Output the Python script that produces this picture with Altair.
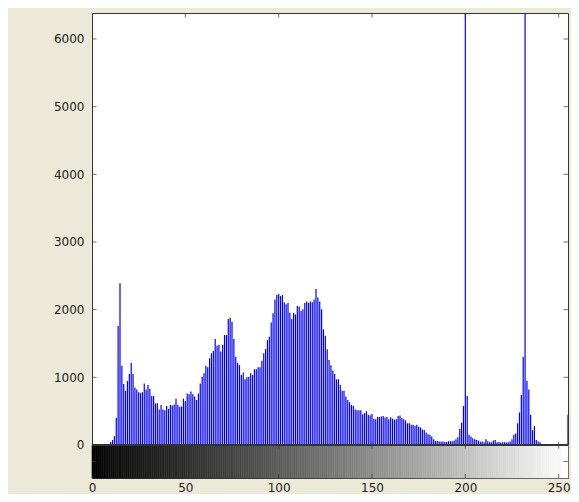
import altair as alt
import pandas as pd

# ---- data (grey level histogram, 256 bins) ----
levels = list(range(256))
counts = [
    0, 0, 0, 0, 0, 0, 0, 0, 0, 15,
    44, 74, 130, 400, 1760, 2390, 1170, 900, 800, 945,
    1050, 1215, 1050, 850, 820, 780, 770, 780, 910, 820,
    885, 830, 725, 725, 615, 615, 525, 590, 525, 515,
    575, 535, 590, 585, 600, 685, 590, 565, 570, 685,
    650, 760, 750, 790, 750, 715, 665, 760, 910, 1010,
    1060, 1170, 1150, 1280, 1355, 1390, 1565, 1465, 1480, 1380,
    1480, 1625, 1625, 1860, 1880, 1820, 1565, 1305, 1215, 1180,
    1035, 1070, 970, 1000, 1010, 1060, 1035, 1120, 1120, 1150,
    1150, 1245, 1355, 1420, 1550, 1600, 1810, 1945, 2150, 2215,
    2230, 2200, 2215, 2110, 2080, 2100, 1955, 1860, 1955, 1930,
    2055, 2045, 1980, 2005, 2100, 2120, 2100, 2120, 2110, 2150,
    2305, 2180, 2120, 2005, 1710, 1615, 1415, 1255, 1180, 1100,
    1050, 970, 970, 885, 800, 800, 715, 665, 630, 590,
    580, 525, 515, 515, 515, 455, 470, 500, 445, 440,
    460, 385, 380, 415, 415, 420, 430, 405, 415, 380,
    410, 390, 375, 380, 430, 435, 400, 380, 360, 320,
    320, 300, 300, 280, 300, 270, 260, 230, 220, 185,
    160, 150, 125, 85, 60, 60, 50, 50, 50, 45,
    45, 55, 55, 55, 65, 85, 115, 235, 330, 575,
    9000, 725, 150, 125, 100, 85, 75, 65, 50, 50,
    40, 85, 55, 40, 40, 65, 75, 40, 45, 35,
    40, 40, 35, 40, 50, 85, 150, 170, 320, 480,
    740, 1305, 9000, 950, 820, 445, 220, 280, 75, 50,
    40, 15, 10, 0, 0, 0, 0, 0, 0, 0,
    0, 0, 0, 0, 0, 445,
]
x_ticks = [0, 50, 100, 150, 200, 250]
y_ticks = [0, 1000, 2000, 3000, 4000, 5000, 6000]

Y_MIN, Y_MAX = -488, 6384
X_MIN, X_MAX = 0, 255

df = pd.DataFrame({"level": levels, "count": counts})
hist = df[df["count"] > 0]
cb = pd.DataFrame({"g": levels[:-1], "g2": levels[1:]})
xt = pd.DataFrame({"v": x_ticks})
yt = pd.DataFrame({"v": y_ticks})
cbt = pd.DataFrame({"v": [Y_MIN / 2]})

FONT = "DejaVu Sans"
FRAME = "#333333"
xs = alt.Scale(domain=[X_MIN, X_MAX], nice=False, zero=False)
ys = alt.Scale(domain=[Y_MIN, Y_MAX], nice=False, zero=False)
gray = alt.Scale(domain=[0, 255], range=["#000000", "#ffffff"])

colorbar = alt.Chart(cb).mark_rect(strokeWidth=0.6).encode(
    x=alt.X("g:Q", scale=xs, title=None,
            axis=alt.Axis(values=x_ticks, ticks=False, domain=False, grid=False,
                          labelPadding=4, labelFont=FONT, labelFontSize=12,
                          labelColor="#222222", format="d", title=None,
                          labelFlush=False)),
    x2="g2:Q",
    y=alt.Y(datum=Y_MIN, scale=ys, title=None,
            axis=alt.Axis(values=y_ticks, ticks=False, domain=False, grid=False,
                          labelPadding=8, labelFont=FONT, labelFontSize=12,
                          labelColor="#222222", format="d", title=None,
                          labelFlush=False)),
    y2=alt.datum(0),
    color=alt.Color("g:Q", scale=gray, legend=None),
    stroke=alt.Stroke("g:Q", scale=gray, legend=None),
)

stems = alt.Chart(hist).mark_rule(color="#0000ff", strokeWidth=1.2, clip=True).encode(
    x=alt.X("level:Q", scale=xs, title=None),
    y=alt.Y("count:Q", scale=ys, title=None),
    y2=alt.datum(0),
)

sep = alt.Chart(cb).mark_rule(color=FRAME, strokeWidth=1).encode(
    x=alt.datum(X_MIN), x2=alt.datum(X_MAX), y=alt.datum(0)
)

def xtick_layer(yv, size):
    return alt.Chart(xt).mark_tick(orient="vertical", size=size, thickness=1,
                                   color=FRAME, clip=True).encode(
        x=alt.X("v:Q", scale=xs, title=None), y=alt.datum(yv))

def ytick_layer(xv, data):
    return alt.Chart(data).mark_tick(orient="horizontal", size=9, thickness=1,
                                     color=FRAME, clip=True).encode(
        y=alt.Y("v:Q", scale=ys, title=None), x=alt.datum(xv))

chart = alt.layer(
    colorbar, stems, sep,
    xtick_layer(Y_MAX, 9), xtick_layer(0, 7), xtick_layer(Y_MIN, 8),
    ytick_layer(X_MIN, yt), ytick_layer(X_MAX, yt),
    ytick_layer(X_MIN, cbt), ytick_layer(X_MAX, cbt),
).properties(
    width=476, height=465,
    autosize=alt.AutoSizeParams(type="none"),
    padding={"left": 84, "top": 5, "right": 3, "bottom": 16},
    background="#ECE9D8",
).configure_view(
    stroke=FRAME, strokeWidth=1, fill="#ffffff"
)

chart.save("out.html", embed_options={"renderer": "svg", "actions": False})
